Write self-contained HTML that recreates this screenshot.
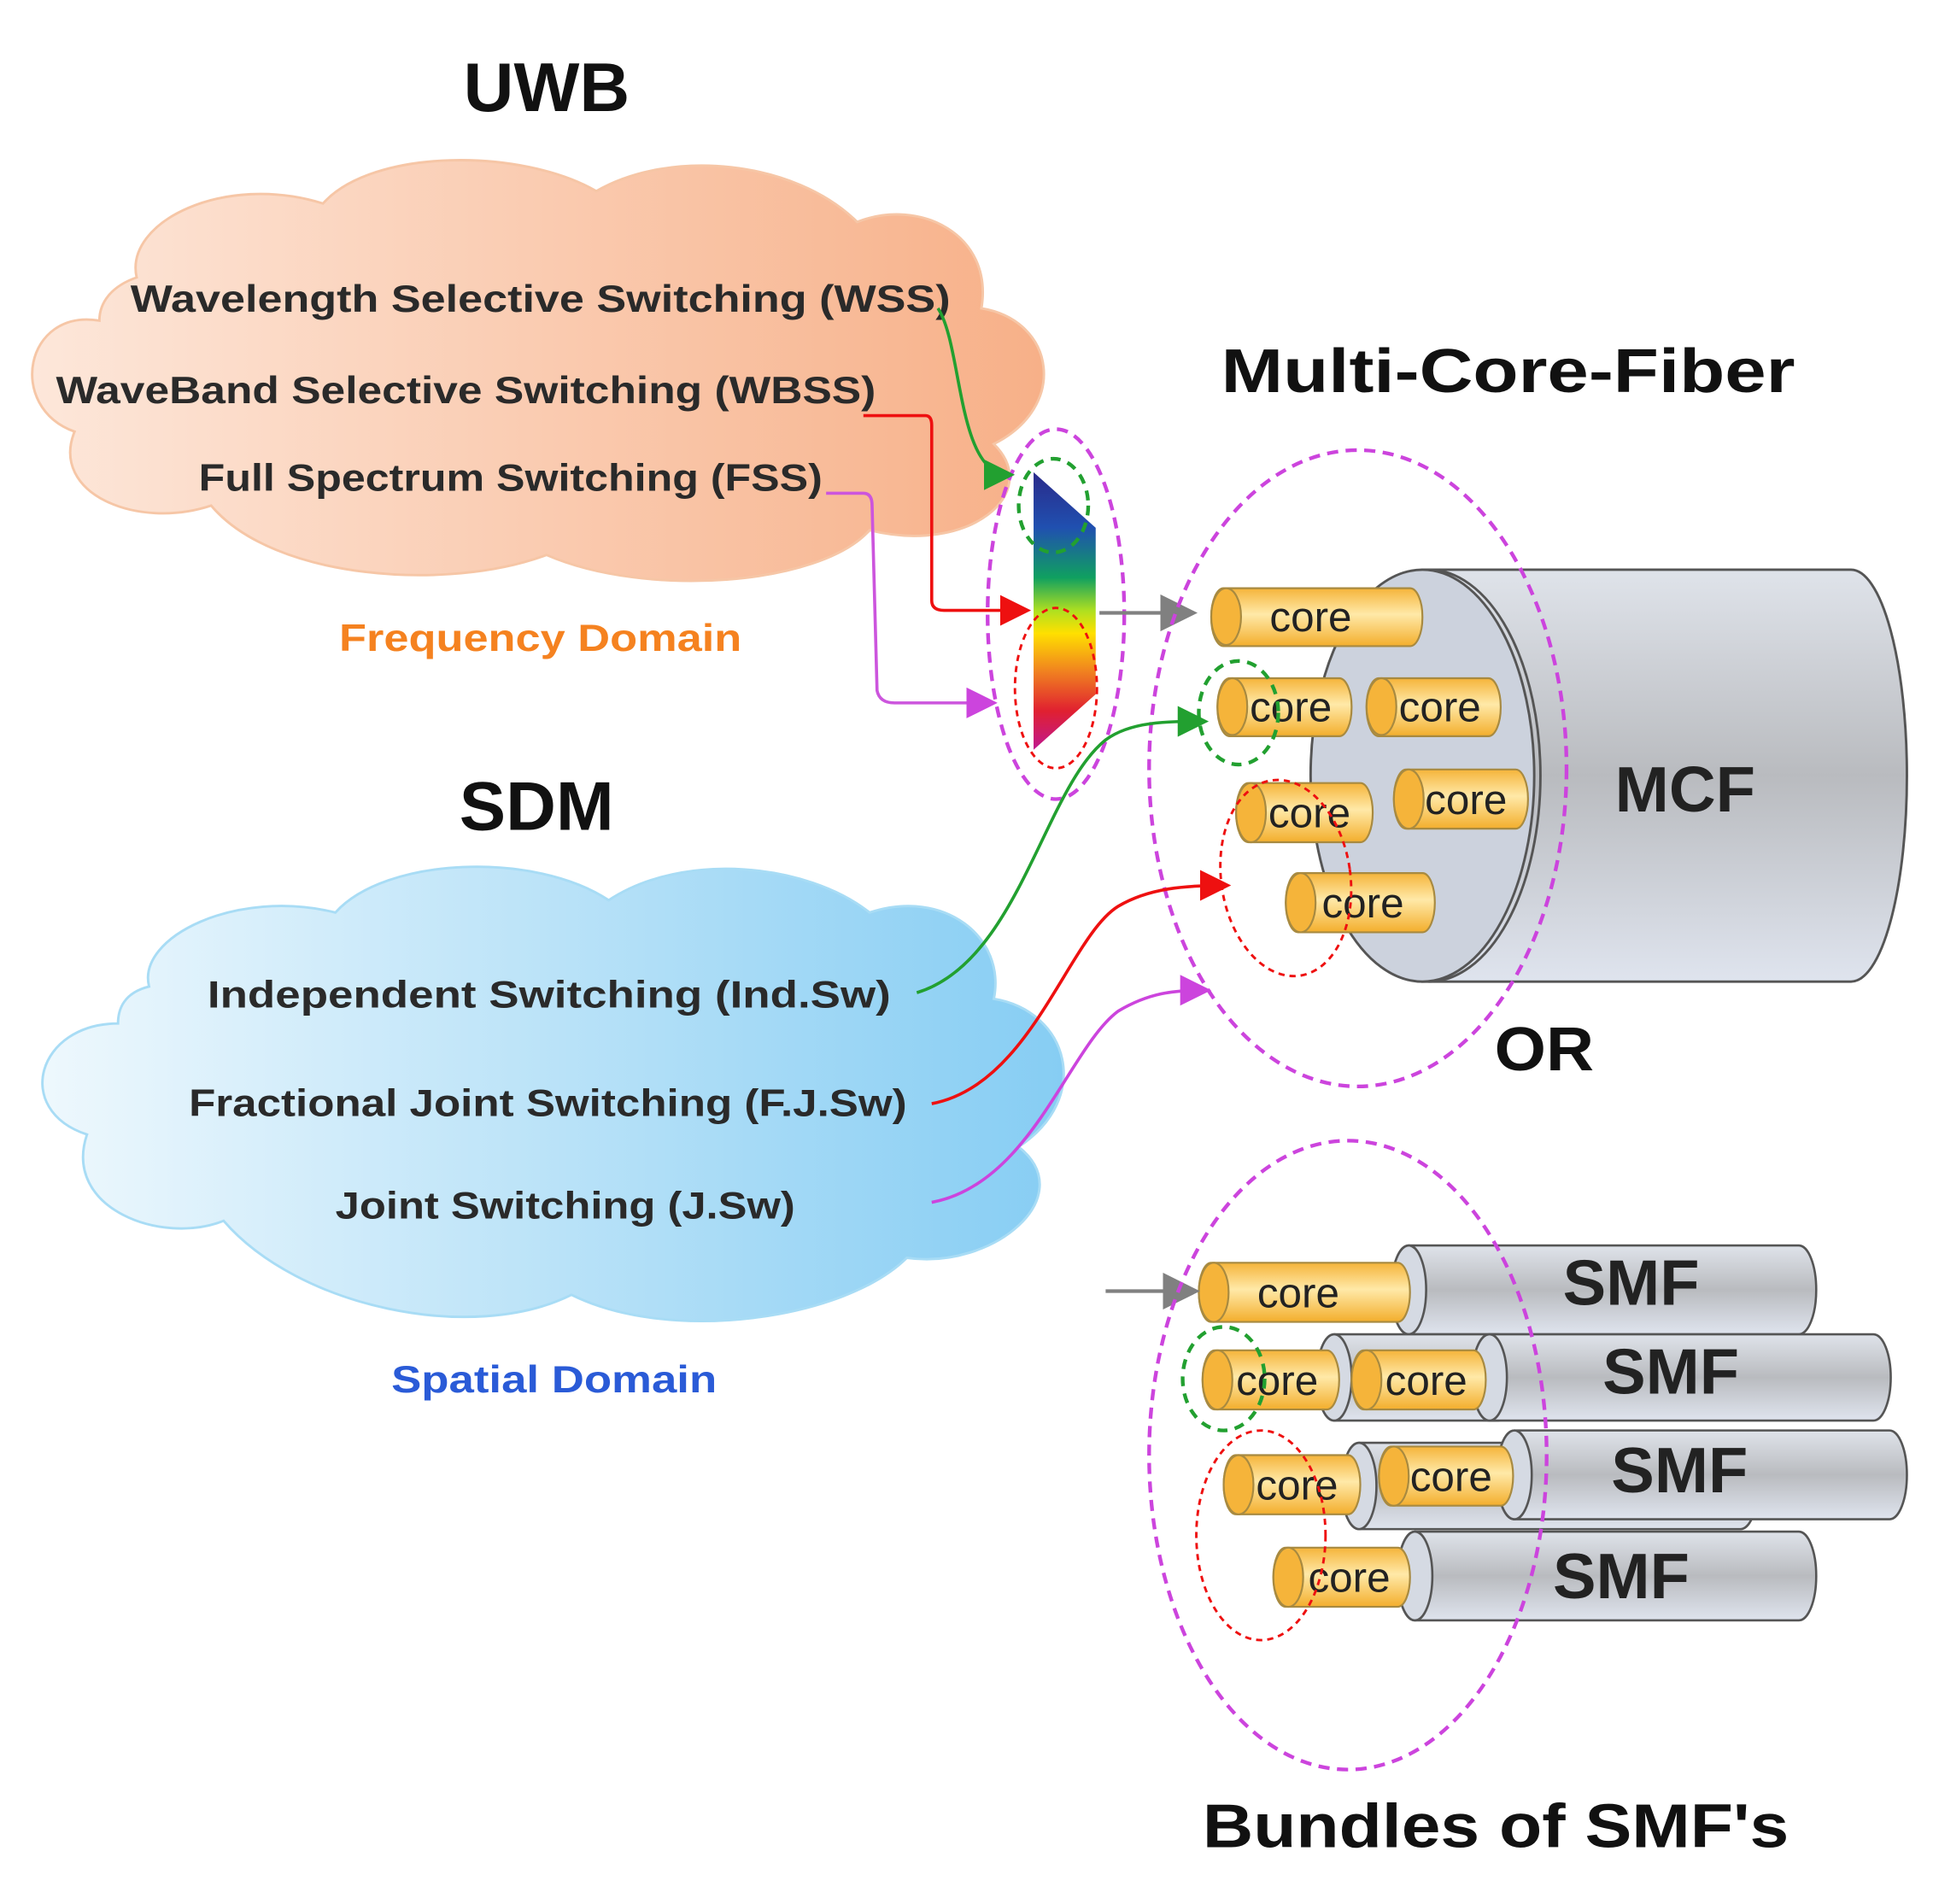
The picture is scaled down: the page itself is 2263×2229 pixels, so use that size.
<!DOCTYPE html>
<html><head><meta charset="utf-8"><style>html,body{margin:0;padding:0;background:#fff}svg{display:block}</style></head>
<body>
<svg width="2263" height="2229" viewBox="0 0 1556 1544" preserveAspectRatio="none" xmlns="http://www.w3.org/2000/svg" font-family="'Liberation Sans', sans-serif" font-weight="bold">
<defs>
<linearGradient id="og" x1="0" x2="1" y1="0" y2="0"><stop offset="0" stop-color="#fde7da"/><stop offset="1" stop-color="#f7b088"/></linearGradient>
<linearGradient id="bg" x1="0" x2="1" y1="0" y2="0"><stop offset="0" stop-color="#eef8fd"/><stop offset="1" stop-color="#86cdf3"/></linearGradient>
<linearGradient id="sp" x1="0" x2="0" y1="0" y2="1"><stop offset="0" stop-color="#2a2a8a"/><stop offset="0.2" stop-color="#2050b0"/><stop offset="0.38" stop-color="#10a060"/><stop offset="0.5" stop-color="#b0e020"/><stop offset="0.58" stop-color="#ffe000"/><stop offset="0.72" stop-color="#f08020"/><stop offset="0.86" stop-color="#e02030"/><stop offset="1" stop-color="#c01890"/></linearGradient>
<linearGradient id="gy" x1="0" x2="0" y1="0" y2="1"><stop offset="0" stop-color="#dfe3ea"/><stop offset="0.5" stop-color="#b9bbbf"/><stop offset="1" stop-color="#dfe4ee"/></linearGradient>
<linearGradient id="cr" x1="0" x2="0" y1="0" y2="1"><stop offset="0" stop-color="#f5b43a"/><stop offset="0.45" stop-color="#ffe9a8"/><stop offset="1" stop-color="#f3ae2c"/></linearGradient>
<marker id="ag" markerWidth="10" markerHeight="10" refX="8" refY="5" orient="auto" viewBox="0 0 10 10"><path d="M0,0 L10,5 L0,10 z" fill="#22a030"/></marker>
<marker id="ar" markerWidth="10" markerHeight="10" refX="8" refY="5" orient="auto" viewBox="0 0 10 10"><path d="M0,0 L10,5 L0,10 z" fill="#ee1010"/></marker>
<marker id="am" markerWidth="10" markerHeight="10" refX="8" refY="5" orient="auto" viewBox="0 0 10 10"><path d="M0,0 L10,5 L0,10 z" fill="#cc44dd"/></marker>
<marker id="ay" markerWidth="10" markerHeight="10" refX="8" refY="5" orient="auto" viewBox="0 0 10 10"><path d="M0,0 L10,5 L0,10 z" fill="#808080"/></marker>
</defs>

<text x="440" y="90" font-size="56" text-anchor="middle" fill="#111">UWB</text>
<path d="M80,260 C20,250 5,330 60,350 C40,400 110,430 170,410 C220,470 360,480 440,450 C520,485 660,475 700,430 C780,450 840,400 800,360 C860,330 850,260 790,250 C800,190 740,160 690,180 C640,130 540,120 480,155 C420,120 300,120 260,165 C180,140 100,180 110,225 C90,232 80,245 80,260 Z" fill="url(#og)" stroke="#f6c6a6" stroke-width="2"/>
<g font-size="31" fill="#2a2a2a">
<text x="105" y="253" textLength="660" lengthAdjust="spacingAndGlyphs">Wavelength Selective Switching (WSS)</text>
<text x="45" y="327" textLength="660" lengthAdjust="spacingAndGlyphs">WaveBand Selective Switching (WBSS)</text>
<text x="160" y="398" textLength="502" lengthAdjust="spacingAndGlyphs">Full Spectrum Switching (FSS)</text>
</g>
<text x="273" y="528" font-size="31" fill="#f58220" textLength="324" lengthAdjust="spacingAndGlyphs">Frequency Domain</text>

<text x="432" y="673" font-size="56" text-anchor="middle" fill="#111">SDM</text>
<path d="M95,830 C30,830 10,900 70,920 C50,980 130,1010 180,990 C240,1060 380,1090 460,1050 C540,1090 680,1070 730,1020 C800,1030 870,970 820,930 C880,890 860,820 800,810 C810,760 760,720 700,740 C650,700 550,690 490,730 C430,690 310,695 270,740 C190,720 110,760 120,800 C100,805 95,818 95,830 Z" fill="url(#bg)" stroke="#a8dcf5" stroke-width="2"/>
<g font-size="31" fill="#2a2a2a">
<text x="167" y="817" textLength="550" lengthAdjust="spacingAndGlyphs">Independent Switching (Ind.Sw)</text>
<text x="152" y="905" textLength="578" lengthAdjust="spacingAndGlyphs">Fractional Joint Switching (F.J.Sw)</text>
<text x="270" y="988" textLength="370" lengthAdjust="spacingAndGlyphs">Joint Switching (J.Sw)</text>
</g>
<text x="315" y="1129" font-size="31" fill="#2a5bd7" textLength="262" lengthAdjust="spacingAndGlyphs">Spatial Domain</text>

<text x="983" y="318" font-size="50" fill="#111" textLength="462" lengthAdjust="spacingAndGlyphs">Multi-Core-Fiber</text>

<polygon points="832,383 882,428 882,563 832,608" fill="url(#sp)"/>
<ellipse cx="850" cy="498" rx="55" ry="150" fill="none" stroke="#cc44dd" stroke-width="3" stroke-dasharray="9,6"/>
<ellipse cx="848" cy="410" rx="28" ry="38" fill="none" stroke="#22a030" stroke-width="3" stroke-dasharray="8,6"/>
<ellipse cx="850" cy="558" rx="33" ry="65" fill="none" stroke="#ee1010" stroke-width="2" stroke-dasharray="5,4"/>

<path d="M755,250 C775,280 770,385 812,385" fill="none" stroke="#22a030" stroke-width="2.5" marker-end="url(#ag)"/>
<path d="M695,337 L745,337 Q750,337 750,345 L750,487 Q750,495 760,495 L825,495" fill="none" stroke="#ee1010" stroke-width="2.5" marker-end="url(#ar)"/>
<path d="M665,400 L695,400 Q702,400 702,410 L706,560 Q708,570 720,570 L798,570" fill="none" stroke="#cc55dd" stroke-width="2.5" marker-end="url(#am)"/>
<path d="M885,497 L958,497" stroke="#808080" stroke-width="3" marker-end="url(#ay)"/>

<path d="M1145,462 L1490,462 A45,167 0 0 1 1490,796 L1145,796 Z" fill="url(#gy)" stroke="#555" stroke-width="2"/>
<ellipse cx="1145" cy="629" rx="90" ry="167" fill="#ccd2dd" stroke="#555" stroke-width="2"/>
<path d="M1150,462 A90,167 0 0 1 1150,796" fill="none" stroke="#555" stroke-width="2"/>
<text x="1300" y="658" font-size="52" fill="#222" textLength="113" lengthAdjust="spacingAndGlyphs">MCF</text>

<g font-weight="normal" font-size="34" fill="#222">
<g><rect x="975" y="477" width="170" height="47" rx="10" ry="23" fill="url(#cr)" stroke="#a88a40" stroke-width="1.5"/><ellipse cx="987" cy="500" rx="12" ry="23" fill="#f5b43a" stroke="#a88a40" stroke-width="1.5"/><text x="1022" y="512">core</text></g>
<g><rect x="980" y="550" width="108" height="47" rx="10" ry="23" fill="url(#cr)" stroke="#a88a40" stroke-width="1.5"/><ellipse cx="992" cy="573" rx="12" ry="23" fill="#f5b43a" stroke="#a88a40" stroke-width="1.5"/><text x="1006" y="585">core</text></g>
<g><rect x="1100" y="550" width="108" height="47" rx="10" ry="23" fill="url(#cr)" stroke="#a88a40" stroke-width="1.5"/><ellipse cx="1112" cy="573" rx="12" ry="23" fill="#f5b43a" stroke="#a88a40" stroke-width="1.5"/><text x="1126" y="585">core</text></g>
<g><rect x="995" y="635" width="110" height="48" rx="10" ry="24" fill="url(#cr)" stroke="#a88a40" stroke-width="1.5"/><ellipse cx="1007" cy="659" rx="12" ry="24" fill="#f5b43a" stroke="#a88a40" stroke-width="1.5"/><text x="1021" y="671">core</text></g>
<g><rect x="1122" y="624" width="108" height="48" rx="10" ry="24" fill="url(#cr)" stroke="#a88a40" stroke-width="1.5"/><ellipse cx="1134" cy="648" rx="12" ry="24" fill="#f5b43a" stroke="#a88a40" stroke-width="1.5"/><text x="1147" y="660">core</text></g>
<g><rect x="1035" y="708" width="120" height="48" rx="10" ry="24" fill="url(#cr)" stroke="#a88a40" stroke-width="1.5"/><ellipse cx="1047" cy="732" rx="12" ry="24" fill="#f5b43a" stroke="#a88a40" stroke-width="1.5"/><text x="1064" y="744">core</text></g>
</g>
<ellipse cx="1093" cy="623" rx="168" ry="258" fill="none" stroke="#cc44dd" stroke-width="3" stroke-dasharray="9,6"/>
<ellipse cx="997" cy="578" rx="32" ry="42" fill="none" stroke="#22a030" stroke-width="3" stroke-dasharray="8,6"/>
<ellipse cx="1035" cy="712" rx="52" ry="80" transform="rotate(-8 1035 712)" fill="none" stroke="#ee1010" stroke-width="2" stroke-dasharray="5,4"/>

<text x="1203" y="868" font-size="50" fill="#111" textLength="80" lengthAdjust="spacingAndGlyphs">OR</text>

<path d="M738,805 C820,780 840,640 890,600 C910,585 940,585 968,585" fill="none" stroke="#22a030" stroke-width="2.5" marker-end="url(#ag)"/>
<path d="M750,895 C830,880 860,760 900,735 C925,720 955,718 986,718" fill="none" stroke="#ee1010" stroke-width="2.5" marker-end="url(#ar)"/>
<path d="M750,975 C830,960 860,850 900,820 C925,805 945,803 970,803" fill="none" stroke="#cc44dd" stroke-width="2.5" marker-end="url(#am)"/>

<g stroke="#555" stroke-width="1.8">
<rect x="1120" y="1010" width="342" height="72" rx="14" ry="36" fill="url(#gy)"/><ellipse cx="1134" cy="1046" rx="14" ry="36" fill="#d5dae3"/>
<rect x="1060" y="1082" width="160" height="70" rx="14" ry="35" fill="url(#gy)"/><ellipse cx="1074" cy="1117" rx="14" ry="35" fill="#d5dae3"/>
<rect x="1185" y="1082" width="337" height="70" rx="14" ry="35" fill="url(#gy)"/><ellipse cx="1199" cy="1117" rx="14" ry="35" fill="#d5dae3"/>
<rect x="1080" y="1170" width="335" height="70" rx="14" ry="35" fill="url(#gy)"/><ellipse cx="1094" cy="1205" rx="14" ry="35" fill="#d5dae3"/>
<rect x="1205" y="1160" width="330" height="72" rx="14" ry="36" fill="url(#gy)"/><ellipse cx="1219" cy="1196" rx="14" ry="36" fill="#d5dae3"/>
<rect x="1125" y="1242" width="337" height="72" rx="14" ry="36" fill="url(#gy)"/><ellipse cx="1139" cy="1278" rx="14" ry="36" fill="#d5dae3"/>
</g>
<g font-size="52" fill="#222">
<text x="1258" y="1058" textLength="110" lengthAdjust="spacingAndGlyphs">SMF</text>
<text x="1290" y="1130" textLength="110" lengthAdjust="spacingAndGlyphs">SMF</text>
<text x="1297" y="1210" textLength="110" lengthAdjust="spacingAndGlyphs">SMF</text>
<text x="1250" y="1296" textLength="110" lengthAdjust="spacingAndGlyphs">SMF</text>
</g>
<g font-weight="normal" font-size="34" fill="#222">
<g><rect x="965" y="1024" width="170" height="48" rx="10" ry="24" fill="url(#cr)" stroke="#a88a40" stroke-width="1.5"/><ellipse cx="977" cy="1048" rx="12" ry="24" fill="#f5b43a" stroke="#a88a40" stroke-width="1.5"/><text x="1012" y="1060">core</text></g>
<g><rect x="968" y="1095" width="110" height="48" rx="10" ry="24" fill="url(#cr)" stroke="#a88a40" stroke-width="1.5"/><ellipse cx="980" cy="1119" rx="12" ry="24" fill="#f5b43a" stroke="#a88a40" stroke-width="1.5"/><text x="995" y="1131">core</text></g>
<g><rect x="1088" y="1095" width="108" height="48" rx="10" ry="24" fill="url(#cr)" stroke="#a88a40" stroke-width="1.5"/><ellipse cx="1100" cy="1119" rx="12" ry="24" fill="#f5b43a" stroke="#a88a40" stroke-width="1.5"/><text x="1115" y="1131">core</text></g>
<g><rect x="985" y="1180" width="110" height="48" rx="10" ry="24" fill="url(#cr)" stroke="#a88a40" stroke-width="1.5"/><ellipse cx="997" cy="1204" rx="12" ry="24" fill="#f5b43a" stroke="#a88a40" stroke-width="1.5"/><text x="1011" y="1216">core</text></g>
<g><rect x="1110" y="1173" width="108" height="48" rx="10" ry="24" fill="url(#cr)" stroke="#a88a40" stroke-width="1.5"/><ellipse cx="1122" cy="1197" rx="12" ry="24" fill="#f5b43a" stroke="#a88a40" stroke-width="1.5"/><text x="1135" y="1209">core</text></g>
<g><rect x="1025" y="1255" width="110" height="48" rx="10" ry="24" fill="url(#cr)" stroke="#a88a40" stroke-width="1.5"/><ellipse cx="1037" cy="1279" rx="12" ry="24" fill="#f5b43a" stroke="#a88a40" stroke-width="1.5"/><text x="1053" y="1291">core</text></g>
</g>
<path d="M890,1047 L960,1047" stroke="#808080" stroke-width="3" marker-end="url(#ay)"/>
<ellipse cx="1085" cy="1180" rx="160" ry="255" fill="none" stroke="#cc44dd" stroke-width="3" stroke-dasharray="9,6"/>
<ellipse cx="985" cy="1118" rx="33" ry="42" fill="none" stroke="#22a030" stroke-width="3" stroke-dasharray="8,6"/>
<ellipse cx="1015" cy="1245" rx="52" ry="85" fill="none" stroke="#ee1010" stroke-width="2" stroke-dasharray="5,4"/>

<text x="968" y="1498" font-size="50" fill="#111" textLength="472" lengthAdjust="spacingAndGlyphs">Bundles of SMF's</text>
</svg>
</body></html>
